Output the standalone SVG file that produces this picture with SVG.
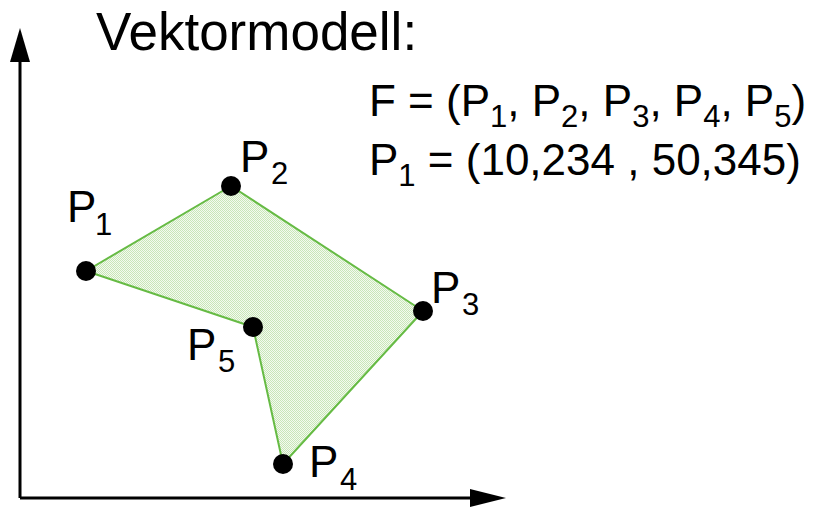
<svg xmlns="http://www.w3.org/2000/svg" width="817" height="508" viewBox="0 0 817 508">
<style>
text{font-family:"Liberation Sans",Arial,sans-serif;fill:#000}
.lbl{font-size:44px}
.sub{font-size:31px}
.axis{stroke:#000;stroke-width:3;fill:none}
.pt{fill:#000}
</style>
<defs>
<pattern id="dots" width="2" height="2" patternUnits="userSpaceOnUse">
<rect width="2" height="2" fill="#f4faef"/>
<rect width="1" height="1" fill="#c8e6b8"/>
<rect x="1" y="1" width="1" height="1" fill="#c8e6b8"/>
</pattern>
</defs>
<rect width="817" height="508" fill="#fff"/>
<g id="axes">
<line class="axis" x1="20" y1="498" x2="20" y2="60"/>
<path d="M20,28 L30,62 L10,62 z" fill="#000"/>
<line class="axis" x1="20" y1="498" x2="472" y2="498"/>
<path d="M506,498 L470,489 L470,507 z" fill="#000"/>
</g>
<g id="polygon">
<polygon points="86,271 231,186 423,311 283,464 253,327" fill="url(#dots)" stroke="#66bb44" stroke-width="2" stroke-linejoin="round"/>
</g>
<g id="p1"><circle class="pt" cx="86" cy="271" r="10"/><text x="67" y="222" class="lbl">P</text><text x="95" y="235" class="sub">1</text></g>
<g id="p2"><circle class="pt" cx="231" cy="186" r="10"/><text x="240" y="172" class="lbl">P</text><text x="271" y="184" class="sub">2</text></g>
<g id="p3"><circle class="pt" cx="423" cy="311" r="10"/><text x="431" y="303" class="lbl">P</text><text x="462" y="315" class="sub">3</text></g>
<g id="p4"><circle class="pt" cx="283" cy="464" r="10"/><text x="309" y="477" class="lbl">P</text><text x="340" y="490" class="sub">4</text></g>
<g id="p5"><circle class="pt" cx="253" cy="327" r="10"/><text x="187" y="360" class="lbl">P</text><text x="218" y="372" class="sub">5</text></g>
<g id="title"><text x="96" y="50" font-size="53">Vektormodell:</text></g>
<g id="formula1"><text x="369" y="116" class="lbl">F = (P<tspan class="sub" dy="11">1</tspan><tspan dy="-11">, P</tspan><tspan class="sub" dy="11">2</tspan><tspan dy="-11">, P</tspan><tspan class="sub" dy="11">3</tspan><tspan dy="-11">, P</tspan><tspan class="sub" dy="11">4</tspan><tspan dy="-11">, P</tspan><tspan class="sub" dy="11">5</tspan><tspan dy="-11">)</tspan></text></g>
<g id="formula2"><text x="369" y="175" class="lbl">P<tspan class="sub" dy="11">1</tspan><tspan dy="-11"> = (10,234 , 50,345)</tspan></text></g>
</svg>
